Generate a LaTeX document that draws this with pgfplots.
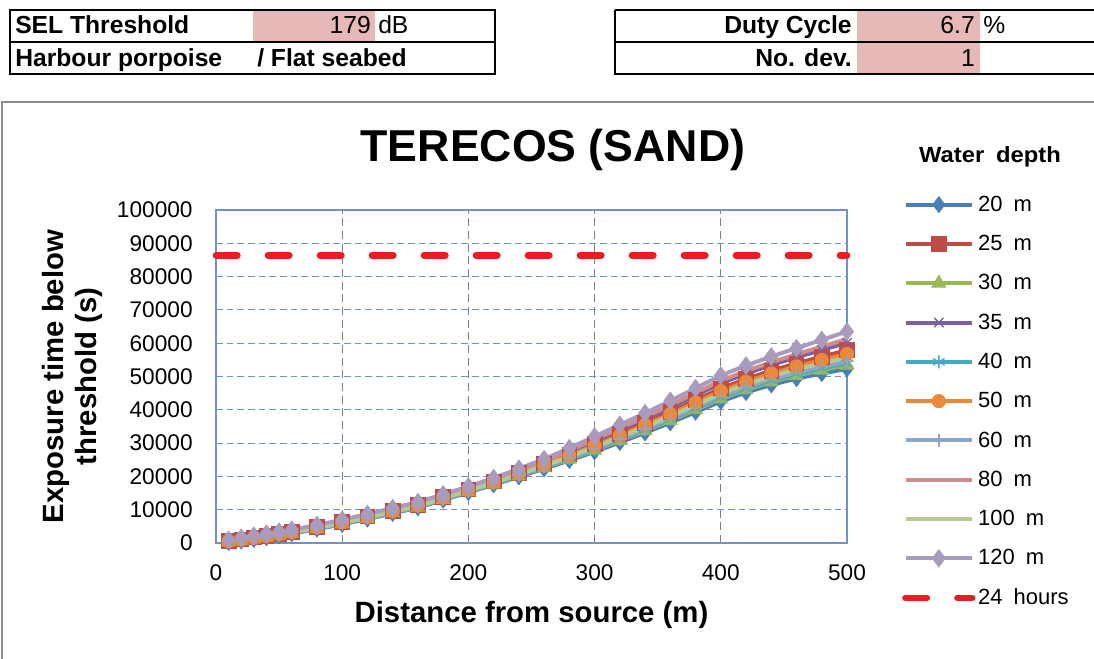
\documentclass[border=0pt]{standalone}
\usepackage{fontspec}
\setmainfont{Liberation Sans}
\usepackage{pgfplots}
\usepackage{pgfplotstable}
\pgfplotsset{compat=1.18}

\definecolor{c20}{HTML}{4A7EBB}
\definecolor{c25}{HTML}{BE4B48}
\definecolor{c30}{HTML}{98B954}
\definecolor{c35}{HTML}{7D60A0}
\definecolor{c40}{HTML}{46AAC5}
\definecolor{c50}{HTML}{E8893C}
\definecolor{c60}{HTML}{8EA5CB}
\definecolor{c80}{HTML}{CE8E8D}
\definecolor{c100}{HTML}{B5CA92}
\definecolor{c120}{HTML}{A99BBD}
\definecolor{cred}{HTML}{ED1C24}
\definecolor{pinkcell}{HTML}{E6B8B7}
\definecolor{gridblue}{HTML}{6F93C6}
\definecolor{framegray}{HTML}{8C8C8C}

% exposure time (s) per water depth
\pgfplotstableread{
x   d20   d25   d30   d35   d40   d50   d60   d80   d100  d120
10  200   600   280   760   320   520   360   840   440   1000
20  600   1100  700   1300  750   1000  800   1400  900   1600
30  1100  1650  1210  1870  1265  1540  1320  1980  1430  2200
40  1600  2200  1720  2440  1780  2080  1840  2560  1960  2800
50  2200  2800  2320  3040  2380  2680  2440  3160  2560  3400
60  2800  3400  2920  3640  2980  3280  3040  3760  3160  4000
80  4200  4800  4320  5040  4380  4680  4440  5160  4560  5400
100 5600  6300  5740  6580  5810  6160  5880  6720  6020  7000
120 7200  7950  7350  8250  7425  7800  7500  8400  7650  8700
140 8900  9700  9060  10020 9140  9540  9220  10180 9380  10500
160 10600 11450 10770 11790 10855 11280 10940 11960 11110 12300
180 12900 13750 13070 14090 13155 13580 13240 14260 13410 14600
200 15200 16100 15380 16460 15470 15920 15560 16640 15740 17000
220 17500 18500 17700 18900 17800 18300 17900 19100 18100 19500
240 19900 21100 20140 21580 20260 20860 20380 21820 20620 22300
260 22300 23750 22590 24330 22735 23460 22880 24620 23170 25200
280 24800 26650 25170 27390 25355 26280 25540 27760 25910 28500
300 27400 29700 27860 30620 28090 29240 28320 31080 28780 32000
320 30200 32850 30730 33910 30995 32320 31260 34440 31790 35500
340 33100 36050 33690 37230 33985 35460 34280 37820 34870 39000
360 36100 39400 36760 40720 37090 38740 37420 41380 38080 42700
380 39300 42900 40020 44340 40380 42180 40740 45060 41460 46500
400 42500 46400 43280 47960 43670 45620 44060 48740 44840 50300
420 45200 49250 46010 50870 46415 48440 46820 51680 47630 53300
440 47500 51750 48350 53450 48775 50900 49200 54300 50050 56000
460 49400 53950 50310 55770 50765 53040 51220 56680 52130 58500
480 50900 55950 51910 57970 52415 54940 52920 58980 53930 61000
500 52300 57900 53420 60140 53980 56780 54540 61260 55660 63500
}\expdata

\newcommand{\fs}{\fontsize{16.5}{19}\selectfont}
\newcommand{\ft}{\fontsize{18.5}{21}\selectfont}
\newcommand{\gap}{\hspace{0.5em}}

\begin{document}
\begin{tikzpicture}
% header cells and chart frame, in pixel units (y downwards)
\begin{scope}[x=0.75pt,y=-0.75pt,yshift=493.5pt]
\useasboundingbox (0,0) rectangle (1094,658);
\fill[pinkcell] (253,11) rectangle (375,41);
\fill[pinkcell] (857,11) rectangle (980,73);
\draw[line width=1.2pt] (10,10) rectangle (495,74);
\draw[line width=0.9pt] (10,42) -- (495,42);
\draw[line width=1.2pt] (615,10) -- (1094,10) (615,10) -- (615,74) -- (1094,74);
\draw[line width=0.9pt] (615,42) -- (1094,42);
\node[anchor=base west,font=\ft\bfseries,inner sep=0pt] at (15,34) {SEL Threshold};
\node[anchor=base east,font=\ft,inner sep=0pt] at (371,34) {179};
\node[anchor=base west,font=\ft,inner sep=0pt] at (378,34) {dB};
\node[anchor=base west,font=\ft\bfseries,inner sep=0pt] at (15,67) {Harbour porpoise};
\node[anchor=base west,font=\ft\bfseries,inner sep=0pt] at (257,67) {/ Flat seabed};
\node[anchor=base east,font=\ft\bfseries,inner sep=0pt] at (852,34) {Duty Cycle};
\node[anchor=base east,font=\ft,inner sep=0pt] at (975,34) {6.7};
\node[anchor=base west,font=\ft,inner sep=0pt] at (983,34) {\%};
\node[anchor=base east,font=\ft\bfseries,inner sep=0pt] at (852,67) {No. dev.};
\node[anchor=base east,font=\ft,inner sep=0pt] at (975,67) {1};
\draw[framegray,line width=1.3pt] (2,660) -- (2,102) -- (1096,102);
\node[font=\fontsize{33.5}{38}\selectfont\bfseries,inner sep=0pt] at (553,150) {TERECOS (SAND)};
\node[font=\fontsize{16.5}{19}\selectfont\bfseries,inner sep=0pt,xscale=1.08] at (990,157) {Water\gap depth};
\end{scope}

\begin{axis}[
  at={(162pt,86.25pt)}, anchor=south west,
  scale only axis, width=473.25pt, height=249.75pt,
  xmin=0, xmax=500, ymin=0, ymax=100000,
  xtick={0,100,...,500}, ytick={0,10000,...,100000},
  scaled y ticks=false,
  xticklabel={\pgfmathprintnumber[fixed,precision=0,assume math mode=true,set thousands separator={}]{\tick}},
  yticklabel={\pgfmathprintnumber[fixed,precision=0,assume math mode=true,set thousands separator={}]{\tick}},
  tick label style={font=\fontsize{17}{20}\selectfont},
  xticklabel style={yshift=-13pt},
  yticklabel style={xshift=-14pt},
  major tick length=0pt,
  axis line style={gridblue, line width=0.8pt},
  xmajorgrids, ymajorgrids,
  x grid style={gray, line width=0.8pt, dash pattern=on 6pt off 3.5pt},
  y grid style={gridblue, line width=0.8pt, dash pattern=on 5pt off 3pt},
  xlabel={Distance from source (m)},
  ylabel={Exposure time below\\threshold (s)},
  every axis x label/.style={at={(rel axis cs:0.5,-0.215)}, anchor=center, font=\fontsize{22}{25}\selectfont\bfseries},
  every axis y label/.style={at={(rel axis cs:-0.228,0.5)}, rotate=90, anchor=center, align=center, font=\fontsize{22}{25}\selectfont\bfseries},
  legend style={draw=none, fill=none, font=\fs, at={(rel axis cs:1.087,1.051)}, anchor=north west,
    row sep=12.45pt, inner sep=0pt},
  legend cell align=left,
  legend image code/.code={\draw[mark repeat=2,mark phase=2] plot coordinates {(0pt,0pt) (25pt,0pt) (50pt,0pt)};},
  ser/.style={line width=3pt, mark options={solid, line width=0.6pt}},
  clip=false,
]
\addplot[ser, c20, mark=diamond*, mark size=6pt] table[x=x,y=d20] {\expdata};
\addlegendentry{20\gap m}
\addplot[ser, c25, mark=square*, mark size=5.5pt] table[x=x,y=d25] {\expdata};
\addlegendentry{25\gap m}
\addplot[ser, c30, mark=triangle*, mark size=6pt] table[x=x,y=d30] {\expdata};
\addlegendentry{30\gap m}
\addplot[ser, c35, mark=x, mark size=5pt, mark options={line width=1pt}] table[x=x,y=d35] {\expdata};
\addlegendentry{35\gap m}
\addplot[ser, c40, mark=asterisk, mark size=5pt, mark options={line width=1pt}] table[x=x,y=d40] {\expdata};
\addlegendentry{40\gap m}
\addplot[ser, c50, mark=*, mark size=5pt] table[x=x,y=d50] {\expdata};
\addlegendentry{50\gap m}
\addplot[ser, c60, mark=+, mark size=5pt, mark options={line width=1pt}] table[x=x,y=d60] {\expdata};
\addlegendentry{60\gap m}
\addplot[ser, c80, no marks] table[x=x,y=d80] {\expdata};
\addlegendentry{80\gap m}
\addplot[ser, c100, no marks] table[x=x,y=d100] {\expdata};
\addlegendentry{100\gap m}
\addplot[ser, c120, mark=diamond*, mark size=6.5pt] table[x=x,y=d120] {\expdata};
\addlegendentry{120\gap m}
\addplot[cred, line width=5pt, line cap=round, dash pattern=on 16pt off 23pt, no marks] coordinates {(0,86400) (500,86400)};
\addlegendentry{24\gap hours}
\end{axis}
\end{tikzpicture}
\end{document}
